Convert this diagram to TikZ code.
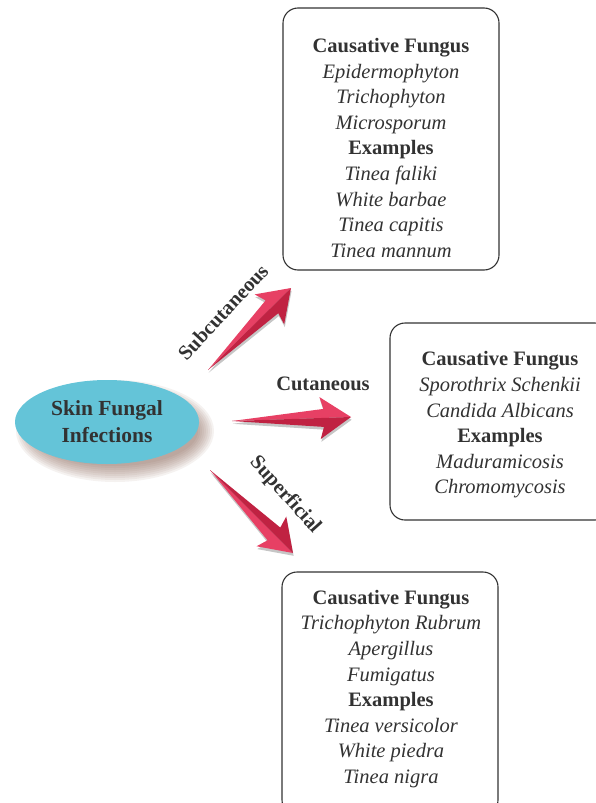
\documentclass[tikz,border=0pt]{standalone}
\usepackage{fontspec}
\setmainfont{Liberation Serif}
\usetikzlibrary{calc,shapes.geometric}
\definecolor{skyblue}{RGB}{100,196,216}
\definecolor{arrlight}{RGB}{231,64,100}
\definecolor{arrdark}{RGB}{192,34,66}
\definecolor{inkgray}{RGB}{50,50,50}
\definecolor{shadebrown}{RGB}{125,85,70}
\def\bigfont{\fontsize{20.5}{25.6}\selectfont}

% fat two-tone arrow: tail, tip, light side, dark side
\newcommand{\fatarrow}[4]{%
\begin{scope}[transform canvas={xshift=0.6pt, yshift=-2.8pt}]
\fill[gray!45] (#1) -- ($(#1)!0.77!(#2)!9pt!#3:(#2)$) -- ($(#1)!0.74!(#2)!21pt!#3:(#2)$) -- (#2)
  -- ($(#1)!0.74!(#2)!21pt!#4:(#2)$) -- ($(#1)!0.77!(#2)!9pt!#4:(#2)$) -- cycle;
\end{scope}
\fill[arrlight] (#1) -- ($(#1)!0.77!(#2)!9pt!#3:(#2)$) -- ($(#1)!0.74!(#2)!21pt!#3:(#2)$) -- (#2) -- cycle;
\fill[arrdark] (#1) -- ($(#1)!0.77!(#2)!9pt!#4:(#2)$) -- ($(#1)!0.74!(#2)!21pt!#4:(#2)$) -- (#2) -- cycle;
}

\begin{document}
\begin{tikzpicture}[x=1pt, y=-1pt,
  fbox/.style={draw=inkgray, line width=1.1pt, rounded corners=15pt, inner sep=0pt},
  txt/.style={align=center, text=inkgray, font=\bigfont, inner sep=0pt},
  lbl/.style={text=inkgray, font=\bigfont\bfseries, inner sep=0pt}
]
\clip (0,0) rectangle (596,803);

% centre
\foreach \s in {0,...,8}
  \fill[shadebrown, opacity=0.08] (115,431) ellipse [x radius={83+2*\s}, y radius={35+2*\s}];
\node[ellipse, fill=skyblue, minimum width=184, minimum height=84, inner sep=0pt,
  text=inkgray, font=\fontsize{21.5}{27}\selectfont\bfseries, align=center] (skin) at (107,422) {Skin Fungal\\Infections};

% arrows
\coordinate (subT) at (208,370);
\coordinate (subH) at (291,288);
\coordinate (cutT) at (232,421);
\coordinate (cutH) at (351,417);
\coordinate (supT) at (210,470);
\coordinate (supH) at (293,553);
\fatarrow{subT}{subH}{90}{-90}
\fatarrow{cutT}{cutH}{90}{-90}
\fatarrow{supT}{supH}{-90}{90}

\node[lbl, rotate=47] (subLbl) at (223,312) {Subcutaneous};
\node[lbl] (cutLbl) at (323,384) {Cutaneous};
\node[lbl, rotate=-48] (supLbl) at (285,495) {Superficial};

% boxes
\node[fbox, minimum width=216, minimum height=262] (subBox) at (391,139) {};
\node[fbox, minimum width=220, minimum height=197] (cutBox) at (500,421.5) {};
\node[fbox, minimum width=216, minimum height=243] (supBox) at (390,693.5) {};

\node[txt] (subTxt) at (391,148) {\textbf{Causative Fungus}\\ \textit{Epidermophyton}\\ \textit{Trichophyton}\\
  \textit{Microsporum}\\ \textbf{Examples}\\ \textit{Tinea faliki}\\ \textit{White barbae}\\
  \textit{Tinea capitis}\\ \textit{Tinea mannum}};
\node[txt] (cutTxt) at (500,425) {\textbf{Causative Fungus}\\ \textit{Sporothrix Schenkii}\\
  \textit{Candida Albicans}\\ \textbf{Examples}\\ \textit{Maduramicosis}\\ \textit{Chromomycosis}};
\node[txt] (supTxt) at (391,689) {\textbf{Causative Fungus}\\ \textit{Trichophyton Rubrum}\\ \textit{Apergillus}\\
  \textit{Fumigatus}\\ \textbf{Examples}\\ \textit{Tinea versicolor}\\ \textit{White piedra}\\
  \textit{Tinea nigra}};

\end{tikzpicture}
\end{document}
